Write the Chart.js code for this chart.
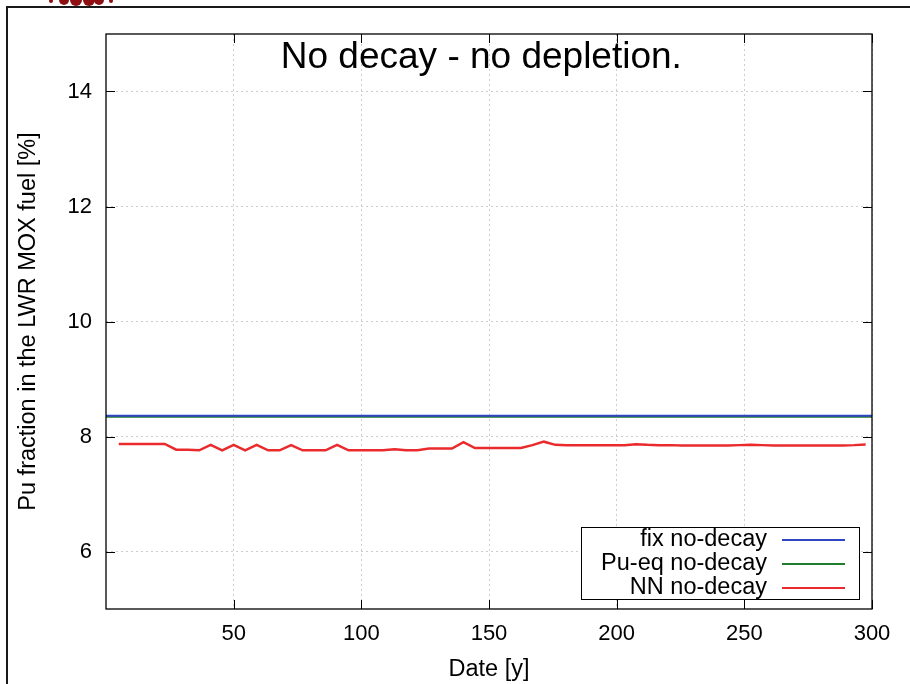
<!DOCTYPE html>
<html>
<head>
<meta charset="utf-8">
<title>Pu fraction - no decay</title>
<script src="https://cdn.jsdelivr.net/npm/chart.js@4"></script>
<style>
  body { margin: 0; background: #fff; }
  #wrap { position: relative; width: 910px; height: 684px; }
</style>
</head>
<body>
<div id="wrap"><canvas id="puChart"></canvas></div>
<script>
// Date [y] of the NN samples
var nnYears = [5, 9.5, 14, 18.5, 23, 27.5, 32, 36.5, 41, 45.5, 50, 54.5, 59, 63.5, 68, 72.5,
    77, 81.5, 86, 90.5, 95, 99.5, 104, 108.5, 113, 117.5, 122, 126.5, 131, 135.5, 140, 144.5,
    149, 153.5, 158, 162.5, 167, 171.5, 176, 180.5, 185, 189.5, 194, 198.5, 203, 207.5, 212,
    216.5, 221, 225.5, 230, 234.5, 239, 243.5, 248, 252.5, 257, 261.5, 266, 270.5, 275, 279.5,
    284, 288.5, 293, 297.5];
// Pu fraction [%], NN no-decay
var nnValues = [7.87, 7.87, 7.87, 7.87, 7.87, 7.77, 7.77, 7.76, 7.855, 7.76, 7.855, 7.76, 7.855, 7.76, 7.76, 7.85,
    7.76, 7.76, 7.76, 7.855, 7.76, 7.76, 7.76, 7.76, 7.78, 7.76, 7.76, 7.79, 7.79, 7.79, 7.90, 7.80,
    7.80, 7.80, 7.80, 7.80, 7.85, 7.91, 7.855, 7.85, 7.85, 7.85, 7.85, 7.85, 7.85, 7.865, 7.855,
    7.85, 7.85, 7.845, 7.845, 7.845, 7.845, 7.845, 7.85, 7.855, 7.85, 7.845, 7.845, 7.845, 7.845, 7.845,
    7.845, 7.845, 7.85, 7.86];
// constant strategies
var fixYears = [0, 300];
var fixValues = [8.36, 8.36];
var pueqValues = [8.345, 8.345];

var xTicks = [50, 100, 150, 200, 250, 300];
var yTicks = [6, 8, 10, 12, 14];

var labels = ['fix no-decay', 'Pu-eq no-decay', 'NN no-decay'];
var colors = ['#2f45c4', '#1f7d2c', '#ea2a2c'];

var FONT = "'Liberation Sans', Arial, Helvetica, sans-serif";

function toPoints(xs, ys) {
    return xs.map(function (x, i) { return { x: x, y: ys[i] }; });
}

// gnuplot style frame, inward ticks, title inside the plot, boxed key
var gnuplotLook = {
    id: 'gnuplotLook',
    beforeDraw: function (chart) {
        var ctx = chart.ctx;
        ctx.save();
        // outer page frame
        ctx.strokeStyle = '#1a1a1a';
        ctx.lineWidth = 2;
        ctx.beginPath();
        ctx.moveTo(7, 684);
        ctx.lineTo(7, 7);
        ctx.lineTo(910, 7);
        ctx.stroke();
        // bit of the logo peeking in at the top
        ctx.fillStyle = '#8e0f12';
        [[51, 1, 2], [64, 0, 5], [76, 0, 6], [89, 0, 6], [99, 0, 5], [111, 1, 2]].forEach(function (c) {
            ctx.beginPath();
            ctx.arc(c[0], c[1], c[2], 0, Math.PI * 2);
            ctx.fill();
        });
        ctx.restore();
    },
    afterDraw: function (chart) {
        var ctx = chart.ctx,
            area = chart.chartArea,
            xs = chart.scales.x,
            ys = chart.scales.y,
            tick = 9;

        ctx.save();
        // ticks on all four sides
        ctx.strokeStyle = '#000';
        ctx.lineWidth = 1;
        ctx.beginPath();
        xTicks.forEach(function (v) {
            var px = Math.round(xs.getPixelForValue(v)) + 0.5;
            ctx.moveTo(px, area.bottom); ctx.lineTo(px, area.bottom - tick);
            ctx.moveTo(px, area.top); ctx.lineTo(px, area.top + tick);
        });
        yTicks.forEach(function (v) {
            var py = Math.round(ys.getPixelForValue(v)) + 0.5;
            ctx.moveTo(area.left, py); ctx.lineTo(area.left + tick, py);
            ctx.moveTo(area.right, py); ctx.lineTo(area.right - tick, py);
        });
        ctx.stroke();

        // plot border
        ctx.lineWidth = 1.3;
        ctx.strokeRect(area.left, area.top, area.right - area.left, area.bottom - area.top);

        // title inside the graph
        ctx.fillStyle = '#000';
        ctx.font = '37px ' + FONT;
        ctx.textAlign = 'center';
        ctx.textBaseline = 'middle';
        ctx.fillText('No decay - no depletion.', area.left + (area.right - area.left) * 0.49, area.top + 24);

        // key box, bottom right
        var bx = 581, by = 527, bw = 278, bh = 72, rowH = 24;
        ctx.fillStyle = '#fff';
        ctx.fillRect(bx, by, bw, bh);
        ctx.lineWidth = 1;
        ctx.strokeStyle = '#000';
        ctx.strokeRect(bx + 0.5, by + 0.5, bw, bh);
        ctx.font = '23.5px ' + FONT;
        ctx.textAlign = 'right';
        chart.data.datasets.forEach(function (ds, i) {
            var cy = by + 13 + i * rowH;
            ctx.fillStyle = '#000';
            ctx.fillText(ds.label, 767, cy);
            ctx.strokeStyle = ds.borderColor;
            ctx.lineWidth = 2;
            ctx.beginPath();
            ctx.moveTo(782, cy);
            ctx.lineTo(845, cy);
            ctx.stroke();
        });
        ctx.restore();
    }
};

var ctx = document.getElementById('puChart');
var puChart = new Chart(ctx, {
    type: 'line',
    data: {
        datasets: [
            { label: labels[0], data: toPoints(fixYears, fixValues), borderColor: colors[0], borderWidth: 2 },
            { label: labels[1], data: toPoints(fixYears, pueqValues), borderColor: colors[1], borderWidth: 2 },
            { label: labels[2], data: toPoints(nnYears, nnValues), borderColor: colors[2], borderWidth: 2.5 }
        ]
    },
    options: {
        responsive: true,
        maintainAspectRatio: false,
        animation: false,
        layout: { padding: { top: 34, right: 38, bottom: 0, left: 0 } },
        elements: { point: { radius: 0 }, line: { tension: 0, fill: false } },
        plugins: { legend: { display: false }, tooltip: { enabled: false } },
        scales: {
            x: {
                type: 'linear',
                min: 0,
                max: 300,
                afterBuildTicks: function (scale) {
                    scale.ticks = xTicks.map(function (v) { return { value: v }; });
                },
                afterFit: function (scale) { scale.height = 75; },
                grid: { color: '#cdcdcd', lineWidth: 1, drawTicks: false },
                border: { display: false, dash: [2, 3] },
                ticks: { color: '#000', font: { family: FONT, size: 22 }, padding: 12, maxRotation: 0 },
                title: { display: true, text: 'Date [y]', color: '#000', font: { family: FONT, size: 23.5 }, padding: { top: 0, bottom: 0 } }
            },
            y: {
                min: 5,
                max: 15,
                afterBuildTicks: function (scale) {
                    scale.ticks = yTicks.map(function (v) { return { value: v }; });
                },
                afterFit: function (scale) { scale.width = 106; },
                grid: { color: '#cdcdcd', lineWidth: 1, drawTicks: false },
                border: { display: false, dash: [2, 3] },
                ticks: { color: '#000', font: { family: FONT, size: 22 }, padding: 14 },
                title: { display: true, text: 'Pu fraction in the LWR MOX fuel [%]', color: '#000', font: { family: FONT, size: 23.5 }, padding: { top: 14, bottom: 0 } }
            }
        }
    },
    plugins: [gnuplotLook]
});
</script>
</body>
</html>
